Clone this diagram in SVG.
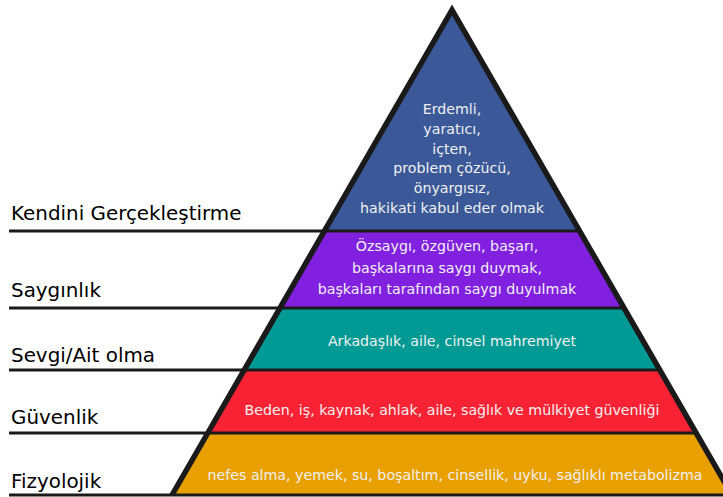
<svg xmlns="http://www.w3.org/2000/svg" width="723" height="497" viewBox="0 0 723 497">
<style>
.lbl{font-family:"DejaVu Sans",sans-serif;font-size:19.9px;fill:#000}
.in{font-family:"DejaVu Sans",sans-serif;font-size:14.2px;fill:#f0f0f0;text-anchor:middle}
.sep{stroke:#1a1a1a;stroke-width:3;fill:none}
</style>
<rect width="723" height="497" fill="#fff"/>
<g id="layer-kendini">
<polygon points="452,10 324.4,231 579.6,231" fill="#3b5998"/>
<text class="in" x="452" y="114">Erdemli,</text>
<text class="in" x="452" y="134">yaratıcı,</text>
<text class="in" x="452" y="154">içten,</text>
<text class="in" x="452" y="173">problem çözücü,</text>
<text class="in" x="452" y="193">önyargısız,</text>
<text class="in" x="452" y="213">hakikati kabul eder olmak</text>
</g>
<g id="layer-saygi">
<polygon points="324.4,231 579.6,231 624.1,308 279.9,308" fill="#8220e0"/>
<text class="in" x="447" y="251">Özsaygı, özgüven, başarı,</text>
<text class="in" x="447" y="273">başkalarına saygı duymak,</text>
<text class="in" x="447" y="294">başkaları tarafından saygı duyulmak</text>
</g>
<g id="layer-sevgi">
<polygon points="279.9,308 624.1,308 659.8,370 244.2,370" fill="#009a94"/>
<text class="in" x="452" y="346">Arkadaşlık, aile, cinsel mahremiyet</text>
</g>
<g id="layer-guvenlik">
<polygon points="244.2,370 659.8,370 696.2,433 207.8,433" fill="#f72334"/>
<text class="in" x="452" y="415">Beden, iş, kaynak, ahlak, aile, sağlık ve mülkiyet güvenliği</text>
</g>
<g id="layer-fizyolojik">
<polygon points="207.8,433 696.2,433 732,495 172,495" fill="#e8a000"/>
<text class="in" x="455" y="480">nefes alma, yemek, su, boşaltım, cinsellik, uyku, sağlıklı metabolizma</text>
</g>
<g id="connectors">
<line class="sep" x1="9" y1="231" x2="579.6" y2="231"/>
<line class="sep" x1="9" y1="308" x2="624.1" y2="308"/>
<line class="sep" x1="9" y1="370" x2="659.8" y2="370"/>
<line class="sep" x1="9" y1="433" x2="696.2" y2="433"/>
<line class="sep" x1="9" y1="495" x2="732" y2="495"/>
<polyline points="172,495 452,10 732,495" fill="none" stroke="#1a1a1a" stroke-width="5.5" stroke-linejoin="miter"/>
</g>
<g id="labels">
<text class="lbl" x="11" y="220">Kendini Gerçekleştirme</text>
<text class="lbl" x="11" y="297">Saygınlık</text>
<text class="lbl" x="11" y="362">Sevgi/Ait olma</text>
<text class="lbl" x="11" y="424">Güvenlik</text>
<text class="lbl" x="11" y="488">Fizyolojik</text>
</g>
</svg>
